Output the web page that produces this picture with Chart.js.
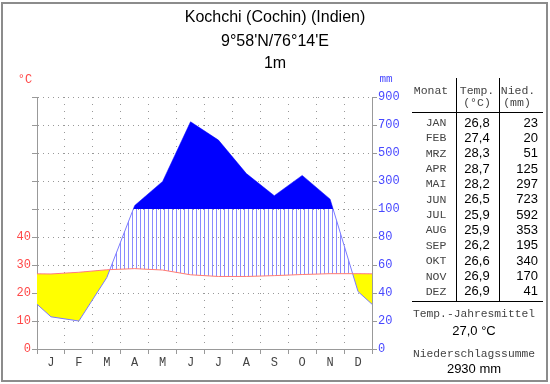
<!DOCTYPE html>
<html>
<head>
<meta charset="utf-8">
<script src="https://cdn.jsdelivr.net/npm/chart.js@4"></script>
<style>
  html, body { margin: 0; padding: 0; background: #fff; }
  canvas { display: block; }
</style>
</head>
<body>
<canvas id="klima" width="550" height="384"></canvas>
<script>
const monthLetters = ["J", "F", "M", "A", "M", "J", "J", "A", "S", "O", "N", "D"];
const monthNames = ["JAN", "FEB", "MRZ", "APR", "MAI", "JUN", "JUL", "AUG", "SEP", "OKT", "NOV", "DEZ"];
const temps = [26.8, 27.4, 28.3, 28.7, 28.2, 26.5, 25.9, 25.9, 26.2, 26.6, 26.9, 26.9];
const precip = [23, 20, 51, 125, 297, 723, 592, 353, 195, 340, 170, 41];
// values at the year boundary (left/right edge of the plot)
const edgeTemp = 26.85;
const edgePrecip = 32;
const tempTicks = [0, 10, 20, 30, 40];
const precipTicks = [0, 20, 40, 60, 80, 100, 300, 500, 700, 900];

// Walter/Lieth: 10 °C = 20 mm up to 100 mm, above that 10 °C = 200 mm
function precipToAxis(p) {
  return p <= 100 ? p / 2 : 50 + (p - 100) / 20;
}

function withEdges(values, edge) {
  const pts = [{ x: 0, y: edge }];
  values.forEach((v, i) => pts.push({ x: i + 0.5, y: v }));
  pts.push({ x: 12, y: edge });
  return pts;
}

const tempPoints = withEdges(temps, edgeTemp);
const precipPoints = withEdges(precip.map(precipToAxis), precipToAxis(edgePrecip));

function makeHatch() {
  const c = document.createElement("canvas");
  c.width = 4;
  c.height = 4;
  const g = c.getContext("2d");
  g.fillStyle = "#8a8aff";
  g.fillRect(0, 0, 1, 4);
  return g.createPattern(c, "repeat");
}

const fmt = (v) => v.toFixed(1).replace(".", ",");
const gridGray = "#999999";
const mono = "'Liberation Mono', 'DejaVu Sans Mono', monospace";
const sans = "'Liberation Sans', Arial, sans-serif";

const textPlugin = {
  id: "klimaText",
  afterDraw(chart) {
    const ctx = chart.ctx;
    ctx.save();

    // frame
    ctx.strokeStyle = "#8c8c8c";
    ctx.lineWidth = 2;
    ctx.strokeRect(2, 3, 545, 378);

    // title
    ctx.fillStyle = "#000";
    ctx.textAlign = "center";
    ctx.textBaseline = "middle";
    ctx.font = "16px " + sans;
    ctx.fillText("Kochchi (Cochin) (Indien)", 275, 18);
    ctx.fillText("9°58'N/76°14'E", 275, 42);
    ctx.fillText("1m", 275, 64);

    // axis units
    ctx.font = "12px " + mono;
    ctx.fillStyle = "#ff4848";
    ctx.fillText("°C", 25, 80);
    ctx.fillStyle = "#4848ff";
    ctx.font = "11px " + mono;
    ctx.fillText("mm", 386, 79);

    // table
    ctx.strokeStyle = "#000";
    ctx.lineWidth = 1;
    ctx.beginPath();
    ctx.moveTo(456.5, 78); ctx.lineTo(456.5, 301);
    ctx.moveTo(499.5, 78); ctx.lineTo(499.5, 301);
    ctx.moveTo(412, 112.5); ctx.lineTo(543, 112.5);
    ctx.moveTo(412, 301.5); ctx.lineTo(543, 301.5);
    ctx.stroke();

    ctx.fillStyle = "#444";
    ctx.font = "11.5px " + mono;
    ctx.fillText("Monat", 431, 91);
    ctx.fillText("Temp.", 477, 91);
    ctx.fillText("(°C)", 477, 103);
    ctx.fillText("Nied.", 518, 91);
    ctx.fillText("(mm)", 517, 103);

    for (let i = 0; i < 12; i++) {
      const y = 123 + i * 15.35;
      ctx.fillStyle = "#444";
      ctx.font = "11.5px " + mono;
      ctx.textAlign = "center";
      ctx.fillText(monthNames[i], 436, y);
      ctx.fillStyle = "#000";
      ctx.font = "13px " + sans;
      ctx.fillText(fmt(temps[i]), 477, y);
      ctx.textAlign = "right";
      ctx.fillText(String(precip[i]), 538, y);
    }

    const mean = temps.reduce((a, b) => a + b, 0) / temps.length;
    const total = precip.reduce((a, b) => a + b, 0);
    ctx.textAlign = "center";
    ctx.fillStyle = "#444";
    ctx.font = "11.3px " + mono;
    ctx.fillText("Temp.-Jahresmittel", 474, 314);
    ctx.fillText("Niederschlagssumme", 474, 354);
    ctx.fillStyle = "#000";
    ctx.font = "13px " + sans;
    ctx.fillText(fmt(mean) + " °C", 474, 331);
    ctx.fillText(total + " mm", 474, 369);

    ctx.restore();
  },
};

new Chart(document.getElementById("klima"), {
  type: "line",
  data: {
    datasets: [
      {
        label: "Temperatur",
        data: tempPoints,
        borderColor: "#ff7a7a",
        borderWidth: 1,
        pointRadius: 0,
        tension: 0,
        fill: false,
        order: 0,
      },
      {
        label: "Niederschlag > 100 mm",
        data: precipPoints,
        borderColor: "rgba(0,0,0,0)",
        borderWidth: 1,
        pointRadius: 0,
        tension: 0,
        fill: { value: 50, above: "#0000ff", below: "rgba(0,0,0,0)" },
        order: 1,
      },
      {
        label: "Niederschlag",
        data: precipPoints,
        borderColor: "#7a7aff",
        borderWidth: 1,
        pointRadius: 0,
        tension: 0,
        fill: { target: 0, above: makeHatch(), below: "#ffff00" },
        order: 2,
      },
    ],
  },
  options: {
    responsive: false,
    animation: false,
    devicePixelRatio: 1,
    layout: { padding: { top: 97, left: 0, right: 0, bottom: 0 } },
    plugins: {
      legend: { display: false },
      tooltip: { enabled: false },
    },
    scales: {
      x: {
        type: "linear",
        min: 0,
        max: 12,
        afterBuildTicks: (s) => {
          s.ticks = Array.from({ length: 25 }, (_, i) => ({ value: i / 2 }));
        },
        afterFit: (s) => { s.height = 35; },
        ticks: {
          autoSkip: false,
          maxRotation: 0,
          padding: 2,
          color: "#444",
          font: { family: mono, size: 12 },
          callback: (v) => (Number.isInteger(v) ? "" : monthLetters[Math.floor(v)]),
        },
        grid: {
          color: (c) => {
            const v = c.tick ? c.tick.value : 0;
            return Number.isInteger(v) && v > 0 && v < 12 ? gridGray : "rgba(0,0,0,0)";
          },
          tickColor: (c) => (c.tick && Number.isInteger(c.tick.value) ? gridGray : "rgba(0,0,0,0)"),
          tickLength: 5,
        },
        border: { color: gridGray, dash: [1, 6] },
      },
      y: {
        position: "left",
        min: 0,
        max: 90,
        afterFit: (s) => { s.width = 37; },
        ticks: {
          stepSize: 10,
          padding: 1,
          color: "#ff4848",
          font: { family: mono, size: 12 },
          callback: (v) => (tempTicks.includes(v) ? String(v) : ""),
        },
        grid: {
          color: (c) => (c.tick && c.tick.value > 0 ? gridGray : "rgba(0,0,0,0)"),
          tickColor: gridGray,
          tickLength: 5,
        },
        border: { color: gridGray, dash: [1, 4] },
      },
      y2: {
        position: "right",
        min: 0,
        max: 90,
        afterFit: (s) => { s.width = 178; },
        ticks: {
          stepSize: 10,
          padding: 1,
          color: "#4848ff",
          font: { family: mono, size: 12 },
          callback: (v) => String(precipTicks[Math.round(v / 10)]),
        },
        grid: { drawOnChartArea: false, tickColor: gridGray, tickLength: 5 },
        border: { color: gridGray },
      },
    },
  },
  plugins: [textPlugin],
});
</script>
</body>
</html>
